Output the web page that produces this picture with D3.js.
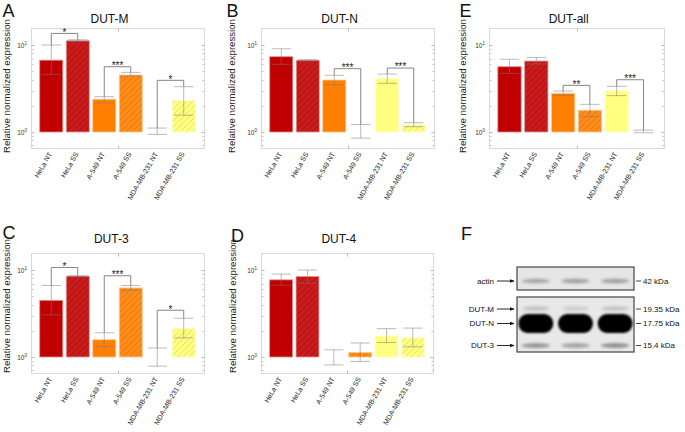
<!DOCTYPE html>
<html><head><meta charset="utf-8">
<script src="https://cdn.jsdelivr.net/npm/d3@7"></script>
<style>body{margin:0;background:#fff} svg{display:block} text{font-family:"Liberation Sans",Arial,sans-serif}</style>
</head><body><svg id="c" width="685" height="432"></svg>
<script>
// ---------------- DATA ----------------
const categories = ["HeLa NT","HeLa SS","A-549 NT","A-549 SS","MDA-MB-231 NT","MDA-MB-231 SS"];
const yTickValues = [1, 10];
const yTickExp = ["0","1"];
const yMinorTicks = [0.7,0.8,0.9,2,3,4,5,6,7,8,9];
const yDomain = [0.655, 15.7];

// DUT-M (A)
const dutM_mean = [6.7, 11.2, 2.38, 4.52, 1.0, 2.29];
const dutM_hi   = [10.0, 11.5, 2.55, 4.85, 1.11, 3.32];
const dutM_lo   = [4.6, 11.0, 2.17, 4.4, 0.94, 1.56];
const dutM_sig  = [[0,1,13.6,"*"],[2,3,5.63,"***"],[4,5,3.93,"*"]];
// DUT-N (B)
const dutN_mean = [7.34, 6.67, 3.96, 1.0, 4.14, 1.21];
const dutN_hi   = [9.06, 6.8, 4.49, 1.22, 4.64, 1.28];
const dutN_lo   = [6.0, 6.6, 3.5, 0.85, 3.63, 1.15];
const dutN_sig  = [[2,3,5.35,"***"],[4,5,5.44,"***"]];
// DUT-3 (C)
const dut3_mean = [4.48, 8.5, 1.58, 6.23, 1.0, 2.13];
const dut3_hi   = [6.64, 8.6, 1.9, 6.64, 1.27, 2.79];
const dut3_lo   = [3.05, 8.4, 1.31, 5.85, 0.785, 1.66];
const dut3_sig  = [[0,1,10.7,"*"],[2,3,8.59,"***"],[4,5,3.45,"*"]];
// DUT-4 (D)
const dut4_mean = [7.71, 8.45, 1.0, 1.13, 1.75, 1.66];
const dut4_hi   = [8.98, 10.0, 1.21, 1.45, 2.12, 2.15];
const dut4_lo   = [6.69, 7.06, 0.81, 0.89, 1.47, 1.31];
const dut4_sig  = [];
// DUT-all (E)
const dutAll_mean = [5.63, 6.55, 2.78, 1.78, 2.98, 1.0];
const dutAll_hi   = [6.86, 7.2, 2.96, 2.08, 3.35, 1.05];
const dutAll_lo   = [4.73, 6.05, 2.63, 1.5, 2.62, 0.98];
const dutAll_sig  = [[2,3,3.44,"**"],[4,5,3.99,"***"]];

const panelTitles  = ["DUT-M","DUT-N","DUT-3","DUT-4","DUT-all"];
const panelLetters = ["A","B","C","D","E"];

// Western blot (F)
const blotLabels   = ["actin","DUT-M","DUT-N","DUT-3"];
const blotMarkers  = ["42 kDa","19.35 kDa","17.75 kDa","15.4 kDa"];
const actinBand = [0.45, 0.5, 0.5];
const dutMBand  = [0.28, 0.2, 0.28];
const dutNBand  = [1, 1, 1];
const dut3Band  = [0.55, 0.45, 0.6];

// ---------------- STYLE ----------------
const barColors = ["#c00000","#c81c1c","#ff8000","#ff8c1a","#ffff80","#ffff80"];
const hatchColors = [null,"#a80808",null,"#e07000",null,"#d8d860"];

const svg = d3.select("#c");
const defs = svg.append("defs");
hatchColors.forEach((hc,i)=>{
  if(!hc) return;
  const p = defs.append("pattern").attr("id","h"+i).attr("patternUnits","userSpaceOnUse")
    .attr("width",6).attr("height",6);
  p.append("rect").attr("width",6).attr("height",6).attr("fill",barColors[i]);
  p.append("path").attr("d","M0,6L6,0M-1,1L1,-1M5,7L7,5").attr("stroke",hc).attr("stroke-width",0.7);
});
const blurF = defs.append("filter").attr("id","blur").attr("x","-50%").attr("y","-150%").attr("width","200%").attr("height","400%");
blurF.append("feGaussianBlur").attr("stdDeviation",1.8);
const blurN = defs.append("filter").attr("id","blurN").attr("x","-20%").attr("y","-40%").attr("width","140%").attr("height","180%");
blurN.append("feGaussianBlur").attr("stdDeviation",0.8);
defs.append("marker").attr("id","arr").attr("viewBox","0 0 10 10").attr("refX",9).attr("refY",5)
  .attr("markerWidth",5).attr("markerHeight",5).attr("orient","auto")
  .append("path").attr("d","M0,1L10,5L0,9Z").attr("fill","#111");

const panels = [
  {mean:dutM_mean, hi:dutM_hi, lo:dutM_lo, sig:dutM_sig, box:[31,204,28,148], title:[109.5,22.5], letter:[2.5,16.8], ylab:[10,86]},
  {mean:dutN_mean, hi:dutN_hi, lo:dutN_lo, sig:dutN_sig, box:[261,434,28,148], title:[339.7,22.5], letter:[226.5,16.8], ylab:[235,86]},
  {mean:dut3_mean, hi:dut3_hi, lo:dut3_lo, sig:dut3_sig, box:[31,204,253,373], title:[111.3,243.3], letter:[2.5,239.3], ylab:[10,306]},
  {mean:dut4_mean, hi:dut4_hi, lo:dut4_lo, sig:dut4_sig, box:[261,433,253,373], title:[338.8,243], letter:[231,241.7], ylab:[236,306]},
  {mean:dutAll_mean, hi:dutAll_hi, lo:dutAll_lo, sig:dutAll_sig, box:[489,664,28,148], title:[568.7,22.5], letter:[459.5,16.5], ylab:[466,86]}
];

panels.forEach((P,pi)=>{
  const [x0,x1,y0,y1] = P.box;
  const g = svg.append("g");
  const x = d3.scaleBand().domain(categories).range([x0,x1]).paddingInner(0.13).paddingOuter(0.33);
  const y = d3.scaleLog().domain(yDomain).range([y1,y0]);
  const bw = x.bandwidth();

  g.append("rect").attr("x",x0+0.5).attr("y",y0+0.5).attr("width",x1-x0).attr("height",y1-y0)
    .attr("fill","none").attr("stroke","#d9d9d9").attr("stroke-width",1);
  yMinorTicks.forEach(v=>{
    const yy = Math.round(y(v))+0.5;
    g.append("line").attr("x1",x0+0.5).attr("x2",x0+2.5).attr("y1",yy).attr("y2",yy).attr("stroke","#c4c4c4");
    g.append("line").attr("x1",x1-1.5).attr("x2",x1+0.5).attr("y1",yy).attr("y2",yy).attr("stroke","#c4c4c4");
  });
  yTickValues.forEach((v,i)=>{
    const yy = Math.round(y(v))+0.5;
    g.append("line").attr("x1",x0+0.5).attr("x2",x0+3.5).attr("y1",yy).attr("y2",yy).attr("stroke","#b8b8b8");
    g.append("line").attr("x1",x1-2.5).attr("x2",x1+0.5).attr("y1",yy).attr("y2",yy).attr("stroke","#b8b8b8");
    const t = g.append("text").attr("x",x0-4).attr("y",yy+2.5).attr("text-anchor","end")
      .attr("font-size",6.5).attr("fill","#333");
    t.append("tspan").text("10");
    t.append("tspan").attr("font-size",4.5).attr("dy",-2.8).text(yTickExp[i]);
  });
  const xm = Math.round((x0+x1)/2)+0.5;
  g.append("line").attr("x1",xm).attr("x2",xm).attr("y1",y1+0.5).attr("y2",y1-2.5).attr("stroke","#b8b8b8");
  g.append("line").attr("x1",xm).attr("x2",xm).attr("y1",y0+0.5).attr("y2",y0+3.5).attr("stroke","#b8b8b8");

  categories.forEach((c,i)=>{
    const v = P.mean[i];
    if(v <= 1) return;
    g.append("rect").attr("x",x(c)).attr("y",y(v)).attr("width",bw).attr("height",y(1)-y(v))
      .attr("fill", hatchColors[i] ? "url(#h"+i+")" : barColors[i])
      .attr("stroke", d3.interpolateRgb(barColors[i],"#ffffff")(0.55)).attr("stroke-width",0.8);
  });
  categories.forEach((c,i)=>{
    const cx = x(c)+bw/2, cw = bw*0.42;
    const eg = g.append("g").attr("stroke","#777").attr("stroke-opacity",0.5).attr("stroke-width",1);
    eg.append("line").attr("x1",cx).attr("x2",cx).attr("y1",y(P.hi[i])).attr("y2",y(P.lo[i]));
    eg.append("line").attr("x1",cx-cw).attr("x2",cx+cw).attr("y1",y(P.hi[i])).attr("y2",y(P.hi[i]));
    eg.append("line").attr("x1",cx-cw).attr("x2",cx+cw).attr("y1",y(P.lo[i])).attr("y2",y(P.lo[i]));
  });
  P.sig.forEach(([a,b,lev,txt])=>{
    const xa = x(categories[a])+bw/2, xb = x(categories[b])+bw/2;
    const ya = y(Math.max(P.hi[a],P.mean[a])), yb = y(Math.max(P.hi[b],P.mean[b])), yl = y(lev);
    g.append("path").attr("d",`M${xa},${ya}V${yl}H${xb}V${yb}`).attr("fill","none")
      .attr("stroke","#858585").attr("stroke-width",1);
    g.append("text").attr("x",(xa+xb)/2).attr("y",yl+2.3).attr("text-anchor","middle")
      .attr("font-size",10).attr("fill","#222").text(txt);
  });
  categories.forEach(c=>{
    const cx = x(c)+bw/2;
    g.append("text").attr("transform",`translate(${cx+1},${y1+6}) rotate(-60)`)
      .attr("text-anchor","end").attr("font-size",7).attr("fill","#222").text(c);
  });
  const yl = g.append("text").attr("transform",`translate(${P.ylab[0]},${P.ylab[1]}) rotate(-90)`)
    .attr("text-anchor","middle").attr("font-size",9.7).attr("fill","#222").text("Relative normalized expression");
  const L = yl.node().getComputedTextLength();
  if (L > 0) yl.attr("font-size", 9.7*134/L);
  g.append("text").attr("x",P.title[0]).attr("y",P.title[1]).attr("text-anchor","middle")
    .attr("font-size",12).attr("fill","#111").text(panelTitles[pi]);
  g.append("text").attr("x",P.letter[0]).attr("y",P.letter[1]).attr("font-size",18).attr("fill","#111").text(panelLetters[pi]);
});

// ---------------- Western blot F ----------------
const F = svg.append("g");
F.append("text").attr("x",461).attr("y",240).attr("font-size",18).attr("fill","#111").text("F");
const lanes = d3.scaleBand().domain([0,1,2]).range([517,634]).paddingInner(0.15).paddingOuter(0.05);
const lw = lanes.bandwidth();
F.append("rect").attr("x",517).attr("y",267).attr("width",117).attr("height",23).attr("fill","#e6e6e6");
F.append("rect").attr("x",517).attr("y",297).attr("width",117).attr("height",55).attr("fill","#e8e8e8");
[0,1,2].forEach(i=>{
  const cx = lanes(i)+lw/2;
  F.append("ellipse").attr("cx",cx).attr("cy",281).attr("rx",lw*0.42).attr("ry",2.2)
    .attr("fill","#555").attr("opacity",actinBand[i]).attr("filter","url(#blur)");
  F.append("ellipse").attr("cx",cx).attr("cy",308.5).attr("rx",lw*0.4).attr("ry",2)
    .attr("fill","#555").attr("opacity",dutMBand[i]).attr("filter","url(#blur)");
  F.append("rect").attr("x",cx-lw/2-0.5).attr("y",314).attr("width",lw+1).attr("height",19).attr("rx",9).attr("ry",9)
    .attr("fill","#050505").attr("opacity",dutNBand[i]).attr("filter","url(#blurN)");
  F.append("ellipse").attr("cx",cx).attr("cy",345.5).attr("rx",lw*0.42).attr("ry",2.2)
    .attr("fill","#444").attr("opacity",dut3Band[i]).attr("filter","url(#blur)");
});
F.append("rect").attr("x",517).attr("y",267).attr("width",117).attr("height",23).attr("fill","none").attr("stroke","#444").attr("stroke-width",1.2);
F.append("rect").attr("x",517).attr("y",297).attr("width",117).attr("height",55).attr("fill","none").attr("stroke","#444").attr("stroke-width",1.2);
const labelY = [281, 309, 323.5, 345.5];
blotLabels.forEach((l,i)=>{
  F.append("text").attr("x",494).attr("y",labelY[i]+2.8).attr("text-anchor","end").attr("font-size",8).attr("fill","#111").text(l);
  F.append("line").attr("x1",497).attr("x2",514).attr("y1",labelY[i]).attr("y2",labelY[i])
    .attr("stroke","#111").attr("stroke-width",0.9).attr("marker-end","url(#arr)");
  F.append("line").attr("x1",636).attr("x2",641).attr("y1",labelY[i]).attr("y2",labelY[i]).attr("stroke","#111").attr("stroke-width",0.8);
  F.append("text").attr("x",643).attr("y",labelY[i]+2.8).attr("font-size",8).attr("fill","#111").text(blotMarkers[i]);
});
</script></body></html>
